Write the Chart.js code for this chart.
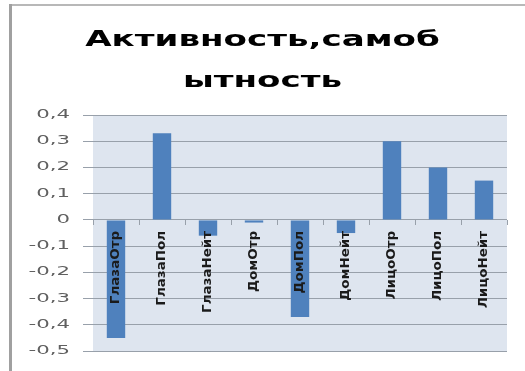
<!DOCTYPE html>
<html>
<head>
<meta charset="utf-8">
<script src="https://cdn.jsdelivr.net/npm/chart.js@4/dist/chart.umd.min.js"></script>
<style>
  html, body { margin: 0; padding: 0; background: #fff; }
  canvas { display: block; }
</style>
</head>
<body>
<canvas id="chart" width="525" height="371"></canvas>
<script>
const titleLines = ['Активность,самоб', 'ытность'];
const categories = ['ГлазаОтр', 'ГлазаПол', 'ГлазаНейт', 'ДомОтр', 'ДомПол', 'ДомНейт', 'ЛицоОтр', 'ЛицоПол', 'ЛицоНейт'];
const values = [-0.45, 0.33, -0.06, -0.01, -0.37, -0.05, 0.30, 0.20, 0.15];
const yTickValues = [-0.5, -0.4, -0.3, -0.2, -0.1, 0, 0.1, 0.2, 0.3, 0.4];

const PLOT_BG = '#dee5ef';
const GRID = '#98a0aa';
const BAR = '#4f81bd';

const Y_TICK_LEN = 10, Y_TICK_PAD = 13;
const X_TICK_LEN = 5, X_TICK_PAD = 6;

function formatTick(v) {
  return v === 0 ? '0' : v.toFixed(1).replace('.', ',');
}

// run a drawing routine with its text widened around an anchor
function stretched(ctx, ox, oy, sx, sy, fn) {
  ctx.save();
  ctx.translate(ox, oy);
  ctx.scale(sx, sy);
  ctx.translate(-ox, -oy);
  fn();
  ctx.restore();
}

const decor = {
  id: 'decor',
  beforeDraw(chart) {
    const { ctx, chartArea: a, width, height } = chart;
    ctx.save();
    ctx.fillStyle = '#ffffff';
    ctx.fillRect(0, 0, width, height);
    ctx.fillStyle = PLOT_BG;
    ctx.fillRect(a.left, a.top, a.right - a.left, a.bottom - a.top);
    // chart frame (left and top edges)
    ctx.fillStyle = '#b8b8b8';
    ctx.fillRect(9, 4, width - 9, 2);
    ctx.fillStyle = '#a0a0a0';
    ctx.fillRect(9, 4, 3, height - 4);
    ctx.restore();

    // wide lettering for title and axis labels
    const xs = chart.scales.x, ys = chart.scales.y, tb = chart.titleBlock;
    if (!xs._wide) {
      const orig = xs.drawLabels;
      xs.drawLabels = function (area) {
        const y0 = ys.getPixelForValue(0) + X_TICK_LEN + X_TICK_PAD;
        stretched(this.ctx, 0, y0, 1, 1.15, () => orig.call(this, area));
      };
      xs._wide = true;
    }
    if (!ys._wide) {
      const orig = ys.drawLabels;
      ys.drawLabels = function (area) {
        const x0 = this.right - Y_TICK_LEN - Y_TICK_PAD;
        stretched(this.ctx, x0, 0, 1.85, 1, () => orig.call(this, area));
      };
      ys._wide = true;
    }
    if (tb && !tb._wide) {
      const orig = tb.draw;
      tb.draw = function () {
        const cx = (this.left + this.right) / 2;
        stretched(this.ctx, cx, 0, 1.55, 1, () => orig.apply(this, arguments));
      };
      tb._wide = true;
    }
  }
};

new Chart(document.getElementById('chart'), {
  type: 'bar',
  data: {
    labels: categories,
    datasets: [{
      data: values,
      backgroundColor: BAR,
      borderWidth: 0,
      barPercentage: 0.4,
      categoryPercentage: 1.0
    }]
  },
  options: {
    responsive: false,
    animation: false,
    events: [],
    layout: { padding: { left: 18, right: 18, top: 0, bottom: 16 } },
    plugins: {
      legend: { display: false },
      tooltip: { enabled: false },
      title: {
        display: true,
        text: titleLines,
        color: '#000000',
        font: { family: 'DejaVu Sans', size: 22, weight: 'bold', lineHeight: 41 / 22 },
        padding: { top: 20, bottom: 13 }
      }
    },
    scales: {
      y: {
        min: -0.5,
        max: 0.4,
        afterBuildTicks(scale) {
          scale.ticks = yTickValues.map(value => ({ value }));
        },
        afterFit(scale) { scale.width = 75; },
        ticks: {
          callback: formatTick,
          color: '#606060',
          padding: Y_TICK_PAD,
          font: { family: 'DejaVu Sans', size: 11.5 }
        },
        grid: {
          color: GRID,
          lineWidth: 1,
          drawTicks: true,
          tickLength: Y_TICK_LEN
        },
        border: { display: false }
      },
      x: {
        position: { y: 0 },
        afterFit(scale) { scale.height = 0; },
        ticks: {
          autoSkip: false,
          minRotation: 90,
          maxRotation: 90,
          padding: X_TICK_PAD,
          color: '#1a1a1a',
          z: 1,
          font: { family: "'DejaVu Sans Condensed', 'DejaVu Sans'", size: 13, weight: 'bold' }
        },
        grid: {
          offset: true,
          drawOnChartArea: false,
          drawTicks: true,
          tickLength: X_TICK_LEN,
          color: GRID
        },
        border: { display: false }
      }
    }
  },
  plugins: [decor]
});
</script>
</body>
</html>
